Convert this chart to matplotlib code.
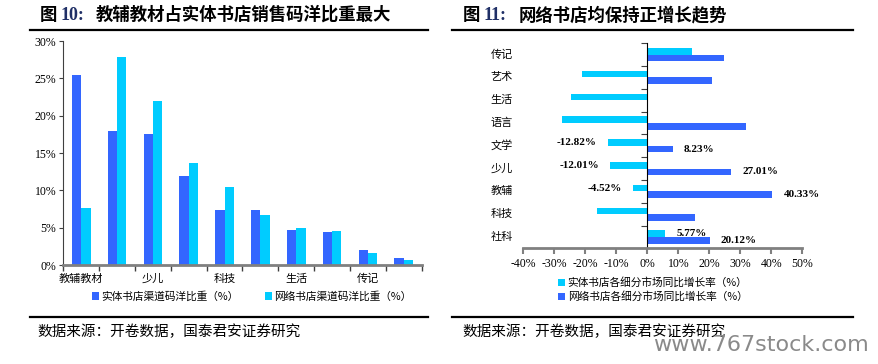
import numpy as np
import matplotlib
matplotlib.use("Agg")
import matplotlib.pyplot as plt
from matplotlib.lines import Line2D
import matplotlib.transforms as mtransforms

plt.rcParams['font.family'] = ['Noto Sans CJK SC', 'DejaVu Sans']

# 图10 数据
cats_left = ['教辅教材', '社科', '少儿', '文学', '科技', '语言', '生活', '艺术', '传记', '其他']
share_offline = [25.4, 17.9, 17.6, 11.9, 7.4, 7.4, 4.7, 4.4, 2.0, 1.0]
share_online = [7.7, 27.8, 22.0, 13.6, 10.5, 6.7, 4.9, 4.5, 1.6, 0.7]

# 图11 数据（自上而下）
cats_right = ['传记', '艺术', '生活', '语言', '文学', '少儿', '教辅', '科技', '社科']
growth_offline = [14.5, -21.2, -24.7, -27.6, -12.82, -12.01, -4.52, -16.1, 5.77]
growth_online = [24.6, 20.8, 0.2, 31.7, 8.23, 27.01, 40.33, 15.4, 20.12]
# 有数据标签的类别
labeled_offline = ['文学', '少儿', '教辅', '社科']
labeled_online = ['文学', '少儿', '教辅', '社科']

BLUE = '#3366FF'
CYAN = '#00CCFF'
GRAY = '#808080'
NAVY = '#1F2F66'
serif = 'Liberation Serif'

fig = plt.figure(figsize=(8.79, 3.64), dpi=100)
W, H = 879, 364


def fx(px):
    return px / W


def fy(py):
    return (H - py) / H


# ---------- 左图 ----------
ax1 = fig.add_axes([fx(63.3), fy(265), fx(421.7) - fx(63.3), fy(41) - fy(265)])
x = np.arange(len(cats_left))
bw = 0.26
ax1.bar(x - bw / 2, share_offline, bw, color=BLUE, label='实体书店渠道码洋比重（%）')
ax1.bar(x + bw / 2, share_online, bw, color=CYAN, label='网络书店渠道码洋比重（%）')
ax1.set_xlim(-0.5, len(cats_left) - 0.5)
ax1.set_ylim(0, 30)
ax1.set_yticks(range(0, 31, 5))
ax1.set_yticklabels([f'{v}%' for v in range(0, 31, 5)], family=serif, fontsize=8.5)
ax1.set_xticks(np.arange(-0.5, len(cats_left), 1.0))
ax1.set_xticklabels([])
ax1.set_xticks(x[::2], minor=True)
ax1.set_xticklabels(cats_left[::2], minor=True, fontsize=8)
ax1.tick_params(axis='x', which='major', direction='out', length=4, color='#404040', width=1)
ax1.tick_params(axis='x', which='minor', length=0, pad=6.5)
ax1.tick_params(axis='y', direction='out', length=3, color='#404040', pad=2)
for s in ['top', 'right']:
    ax1.spines[s].set_visible(False)
ax1.spines['bottom'].set_color(GRAY)
ax1.spines['bottom'].set_linewidth(2)
ax1.spines['left'].set_color('#404040')
ax1.legend(loc='center left', bbox_to_anchor=(fx(92), fy(296.5)), bbox_transform=fig.transFigure,
           ncol=2, frameon=False, fontsize=7.7, handlelength=0.7, handleheight=0.7,
           handletextpad=0.2, columnspacing=2.4, borderaxespad=0, borderpad=0)

# ---------- 右图 ----------
ax2 = fig.add_axes([fx(523.3), fy(248.3), fx(802.3) - fx(523.3), fy(43.3) - fy(248.3)])
y = np.arange(len(cats_right))
bh = 0.29
ax2.barh(y - bh / 2, growth_offline, bh, color=CYAN, label='实体书店各细分市场同比增长率（%）')
ax2.barh(y + bh / 2, growth_online, bh, color=BLUE, label='网络书店各细分市场同比增长率（%）')
ax2.set_xlim(-40, 50)
ax2.set_ylim(len(cats_right) - 0.5, -0.5)
ax2.set_xticks(range(-40, 51, 10))
ax2.set_xticklabels([f'{v}%' for v in range(-40, 51, 10)], family=serif, fontsize=8.5)
ax2.set_yticks(np.arange(-0.5, len(cats_right), 1.0))
ax2.set_yticklabels([])
ax2.tick_params(axis='y', direction='out', length=4, color='#404040')
ax2.tick_params(axis='x', direction='out', length=4, color=GRAY, width=1.5, pad=3)
for s in ['top', 'right']:
    ax2.spines[s].set_visible(False)
ax2.spines['left'].set_position(('data', 0))
ax2.spines['left'].set_color('black')
ax2.spines['bottom'].set_color(GRAY)
ax2.spines['bottom'].set_linewidth(2)
ytr = mtransforms.blended_transform_factory(ax2.transAxes, ax2.transData)
for i, c in enumerate(cats_right):
    ax2.text(-0.038, i, c, transform=ytr, ha='right', va='center', fontsize=8)

for i, c in enumerate(cats_right):
    if c in labeled_offline:
        v = growth_offline[i]
        off = 8 if v >= 0 else -8
        ax2.annotate(f'{v:.2f}%', (v, i - bh / 2), xytext=(off, 0), textcoords='offset points',
                     ha='left' if v >= 0 else 'right', va='center', family=serif,
                     fontweight='bold', fontsize=8)
    if c in labeled_online:
        v = growth_online[i]
        ax2.annotate(f'{v:.2f}%', (v, i + bh / 2), xytext=(8, 0), textcoords='offset points',
                     ha='left', va='center', family=serif, fontweight='bold', fontsize=8)

ax2.legend(loc='center left', bbox_to_anchor=(fx(558), fy(289.7)), bbox_transform=fig.transFigure,
           ncol=1, frameon=False, fontsize=7.7, handlelength=0.7, handleheight=0.7,
           handletextpad=0.2, labelspacing=0.3, borderaxespad=0, borderpad=0)

# ---------- 标题、分隔线、来源 ----------
ty = fy(15)
fig.text(fx(40), ty, '图', fontsize=12.5, fontweight='bold', va='center')
fig.text(fx(61), ty, '10:', fontsize=13, fontweight='bold', family=serif, color=NAVY, va='center')
fig.text(fx(96), ty, '教辅教材占实体书店销售码洋比重最大', fontsize=12.5, fontweight='bold', va='center')
fig.text(fx(463), ty, '图', fontsize=12.5, fontweight='bold', va='center')
fig.text(fx(484), ty, '11:', fontsize=13, fontweight='bold', family=serif, color=NAVY, va='center')
fig.text(fx(519), ty, '网络书店均保持正增长趋势', fontsize=12.5, fontweight='bold', va='center')

for x0, x1 in [(30, 428), (452, 853)]:
    fig.add_artist(Line2D([fx(x0), fx(x1)], [fy(29.5), fy(29.5)], color='black', linewidth=1.6,
                          transform=fig.transFigure))
    fig.add_artist(Line2D([fx(x0), fx(x1)], [fy(316.7), fy(316.7)], color='black', linewidth=1.6,
                          transform=fig.transFigure))

fig.text(fx(37), fy(331.5), '数据来源：开卷数据，国泰君安证券研究', fontsize=10.5, va='center')
fig.text(fx(462), fy(331.5), '数据来源：开卷数据，国泰君安证券研究', fontsize=10.5, va='center')
fig.text(fx(653), fy(345), 'www.767stock.com', fontsize=16, color='#8a8a8a', va='center',
         family='DejaVu Sans')

fig.savefig('out.png', dpi=100)
